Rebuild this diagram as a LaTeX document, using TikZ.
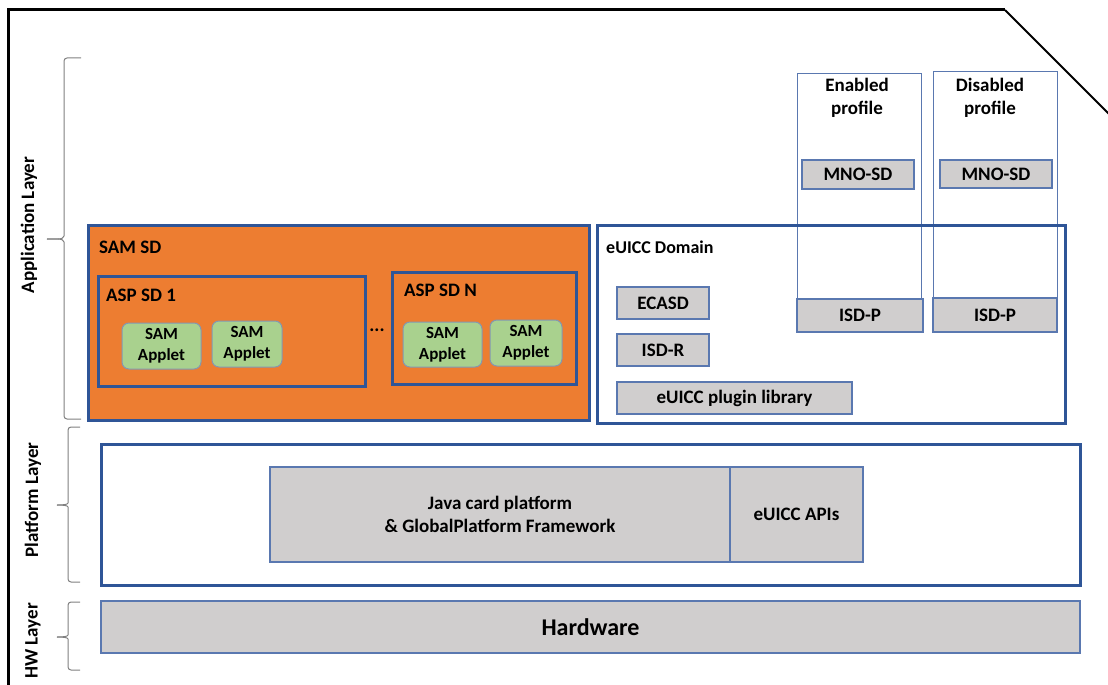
\documentclass[tikz,border=0pt]{standalone}
\usepackage{fontspec}
\setmainfont{Carlito}
\definecolor{bord}{HTML}{2F5597}
\definecolor{thinb}{HTML}{5A78B0}
\definecolor{grayf}{HTML}{D0CECE}
\definecolor{orangef}{HTML}{ED7D31}
\definecolor{greenf}{HTML}{A9D18E}
\definecolor{greenb}{HTML}{8497B0}
\definecolor{bracec}{HTML}{808080}
\tikzset{
  base/.style={anchor=north west, inner sep=0pt, outer sep=0pt, align=center,
    font=\bfseries\fontsize{19}{23}\selectfont},
  graybox/.style={base, fill=grayf, draw=thinb, line width=1.2pt},
  thickbox/.style={base, draw=bord, line width=3pt},
  applet/.style={base, fill=greenf, draw=greenb, line width=1pt, rounded corners=7pt,
    font=\bfseries\fontsize{17}{21}\selectfont},
  col/.style={base, draw=thinb, line width=1pt},
  lbl/.style={anchor=west, inner sep=0pt, font=\bfseries\fontsize{19}{23}\selectfont},
  brace/.style={draw=bracec, line width=1pt, rounded corners=3pt},
  layer/.style={rotate=90, inner sep=0pt, font=\bfseries\fontsize{19}{23}\selectfont},
  frame/.style={draw=black, line width=3pt},
}
\begin{document}
\begin{tikzpicture}[x=1pt, y=-1pt]
\useasboundingbox (0,0) rectangle (1108,685);
% outer frame
\coordinate (f1) at (8,690);
\coordinate (f2) at (8,10);
\coordinate (f3) at (1005,10);
\coordinate (f4) at (1112,117);
\draw[frame, line join=miter] (f1) -- (f2) -- (f3);
\draw[draw=black, line width=2pt] (f3) -- (f4);

% layer braces
\coordinate (a1) at (81,58);
\coordinate (a2) at (64,58);
\coordinate (a3) at (64,239);
\coordinate (a4) at (47,239);
\coordinate (a5) at (64,419);
\coordinate (a6) at (81,419);
\draw[brace] (a1) -- (a2) -- (64,233) to[out=-90,in=0] (a4);
\draw[brace] (a4) to[out=0,in=90] (64,245) -- (a5) -- (a6);

\coordinate (p1) at (80,427);
\coordinate (p4) at (57,505);
\coordinate (p6) at (80,582);
\draw[brace] (p1) -- (68,427) -- (68,500) to[out=-90,in=0] (p4);
\draw[brace] (p4) to[out=0,in=90] (68,510) -- (68,582) -- (p6);

\coordinate (h1) at (80,602);
\coordinate (h4) at (57,637);
\coordinate (h6) at (80,670);
\draw[brace] (h1) -- (68,602) -- (68,632) to[out=-90,in=0] (h4);
\draw[brace] (h4) to[out=0,in=90] (68,642) -- (68,670) -- (h6);

\node[layer] (applayer) at (29,225) {Application Layer};
\node[layer] (platlayer) at (33,500) {Platform Layer};
\node[layer] (hwlayer) at (33,641) {HW Layer};

% SAM SD
\node[thickbox, fill=orangef, minimum width=501pt, minimum height=195pt] (samsd) at (88,225) {};
\node[lbl] (samsdl) at (99,247) {SAM SD};
\node[thickbox, minimum width=267pt, minimum height=110pt] (asp1) at (98,276) {};
\node[lbl] (asp1l) at (106,295) {ASP SD 1};
\node[applet, minimum width=79pt, minimum height=46pt] (app1) at (122,323) {SAM\\Applet};
\node[applet, minimum width=70pt, minimum height=46pt] (app2) at (212,321) {SAM\\Applet};
\node[inner sep=0pt, font=\bfseries\fontsize{19}{23}\selectfont] (dots) at (377,330) {...};
\node[thickbox, minimum width=184pt, minimum height=112pt] (aspn) at (392,272) {};
\node[lbl] (aspnl) at (404,290) {ASP SD N};
\node[applet, minimum width=79pt, minimum height=45pt] (app3) at (403,322) {SAM\\Applet};
\node[applet, minimum width=72pt, minimum height=46pt] (app4) at (490,320) {SAM\\Applet};

% profiles columns
\node[col, minimum width=124pt, minimum height=225pt] (encol) at (797,74) {};
\node[col, minimum width=124pt, minimum height=226pt] (discol) at (933,72) {};

% eUICC domain
\node[thickbox, minimum width=468pt, minimum height=198pt] (euicc) at (597,225) {};
\node[lbl, font=\bfseries\fontsize{18}{22}\selectfont] (euiccl) at (606,247) {eUICC Domain};

\node[base, anchor=north] (enl) at (857,78) {Enabled\\profile};
\node[base, anchor=north] (disl) at (990,78) {Disabled\\profile};
\node[graybox, minimum width=112pt, minimum height=29pt] (mno1) at (802,160) {MNO-SD};
\node[graybox, minimum width=112pt, minimum height=28pt] (mno2) at (940,160) {MNO-SD};
\node[graybox, minimum width=126pt, minimum height=33pt] (isdp1) at (797,299) {ISD-P};
\node[graybox, minimum width=124pt, minimum height=34pt] (isdp2) at (933,298) {ISD-P};

\node[graybox, minimum width=92pt, minimum height=32pt] (ecasd) at (617,287) {ECASD};
\node[graybox, minimum width=92pt, minimum height=32pt] (isdr) at (617,334) {ISD-R};
\node[graybox, minimum width=235pt, minimum height=32pt] (plugin) at (617,382) {eUICC plugin library};

% platform layer
\node[thickbox, minimum width=979pt, minimum height=141pt] (plat) at (101,444) {};
\node[graybox, minimum width=460pt, minimum height=95pt] (java) at (270,467) {Java card platform\\\& GlobalPlatform Framework};
\node[graybox, minimum width=133pt, minimum height=95pt] (apis) at (730,467) {eUICC APIs};

% hardware
\node[graybox, minimum width=979pt, minimum height=52pt, font=\bfseries\fontsize{24}{28}\selectfont] (hw) at (101,601) {Hardware};
\end{tikzpicture}
\end{document}
